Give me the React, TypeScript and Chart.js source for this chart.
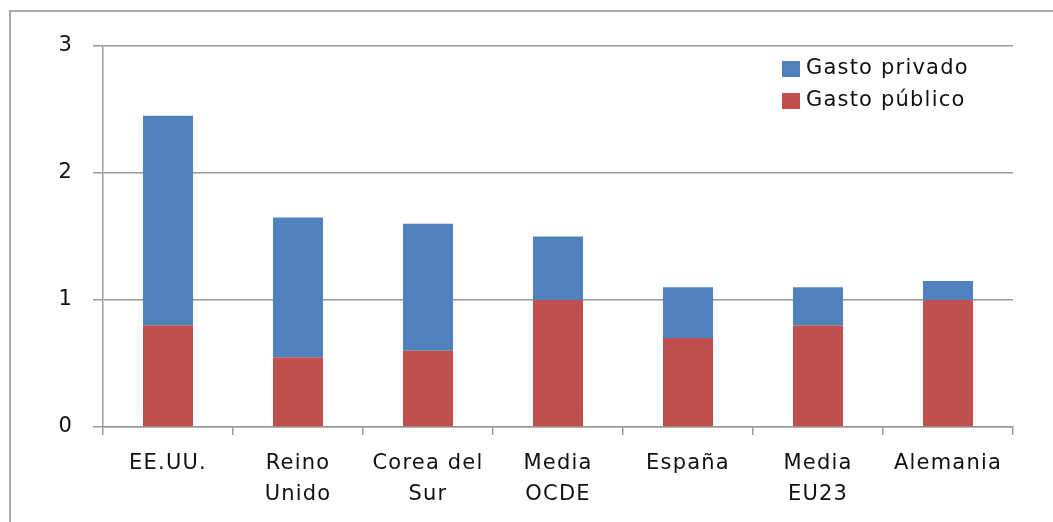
import React, { useEffect, useRef } from "react";
import { Chart, registerables } from "chart.js";

Chart.register(...registerables);

const categories: string[][] = [
  ["EE.UU."],
  ["Reino", "Unido"],
  ["Corea del", "Sur"],
  ["Media", "OCDE"],
  ["España"],
  ["Media", "EU23"],
  ["Alemania"],
];
const publicSpending = [0.8, 0.55, 0.6, 1.0, 0.7, 0.8, 1.0];
const privateSpending = [1.65, 1.1, 1.0, 0.5, 0.4, 0.3, 0.15];
const yTicks = [0, 1, 2, 3];

const FONT = "'DejaVu Sans', Verdana, sans-serif";
const TEXT = "#111111";
const GRID = "#9a9a9a";
const SPACING = "1.2px";

const spacingPlugin = {
  id: "spacing",
  beforeUpdate(chart: any) {
    chart.ctx.letterSpacing = SPACING;
  },
  beforeDraw(chart: any) {
    chart.ctx.letterSpacing = SPACING;
  },
};

const legendPlugin = {
  id: "customLegend",
  afterDraw(chart: any) {
    const ctx = chart.ctx;
    const ds = chart.data.datasets;
    const order = [1, 0];
    ctx.save();
    ctx.letterSpacing = SPACING;
    ctx.font = `21px ${FONT}`;
    ctx.textBaseline = "middle";
    ctx.textAlign = "left";
    order.forEach((di, i) => {
      const y = 69 + i * 32;
      ctx.fillStyle = ds[di].backgroundColor;
      ctx.fillRect(782, y - 8, 18, 16);
      ctx.fillStyle = TEXT;
      ctx.fillText(ds[di].label, 806, y);
    });
    ctx.restore();
  },
};

export default function App() {
  const ref = useRef<HTMLCanvasElement | null>(null);
  useEffect(() => {
    if (!ref.current) return;
    const chart = new Chart(ref.current, {
      type: "bar",
      data: {
        labels: categories,
        datasets: [
          {
            label: "Gasto público",
            data: publicSpending,
            backgroundColor: "#C0504D",
            barPercentage: 0.385,
            categoryPercentage: 1,
          },
          {
            label: "Gasto privado",
            data: privateSpending,
            backgroundColor: "#4F81BD",
            barPercentage: 0.385,
            categoryPercentage: 1,
          },
        ],
      },
      options: {
        animation: false,
        responsive: false,
        maintainAspectRatio: false,
        layout: { padding: { top: 46, right: 40, left: 0, bottom: 0 } },
        plugins: { legend: { display: false }, tooltip: { enabled: false } },
        scales: {
          x: {
            stacked: true,
            offset: true,
            grid: {
              offset: true,
              drawOnChartArea: false,
              drawTicks: true,
              tickLength: 8,
              color: GRID,
              lineWidth: 1.5,
            },
            border: { color: GRID, width: 1.5 },
            ticks: {
              color: TEXT,
              font: { family: FONT, size: 21, lineHeight: 1.48 },
              padding: 13,
              maxRotation: 0,
              autoSkip: false,
            },
            afterFit(scale: any) {
              scale.height = 95;
            },
          },
          y: {
            stacked: true,
            min: 0,
            max: 3,
            afterBuildTicks(scale: any) {
              scale.ticks = yTicks.map((v) => ({ value: v }));
            },
            grid: {
              color: GRID,
              lineWidth: 1.5,
              drawTicks: true,
              tickLength: 10,
            },
            border: { color: GRID, width: 1.5 },
            ticks: {
              color: TEXT,
              font: { family: FONT, size: 21 },
              padding: 20,
            },
            afterFit(scale: any) {
              scale.width = 103;
            },
          },
        },
      },
      plugins: [spacingPlugin, legendPlugin],
    });
    return () => chart.destroy();
  }, []);

  return (
    <div
      style={{
        position: "fixed",
        left: 0,
        top: 0,
        width: 1053,
        height: 522,
        background: "#fff",
      }}
    >
      <div
        style={{
          position: "absolute",
          left: 9,
          top: 10,
          right: 0,
          bottom: 0,
          borderLeft: "2px solid #a8a8a8",
          borderTop: "2px solid #a8a8a8",
        }}
      />
      <canvas
        ref={ref}
        width={1053}
        height={522}
        style={{ position: "absolute", left: 0, top: 0, width: 1053, height: 522 }}
      />
    </div>
  );
}
